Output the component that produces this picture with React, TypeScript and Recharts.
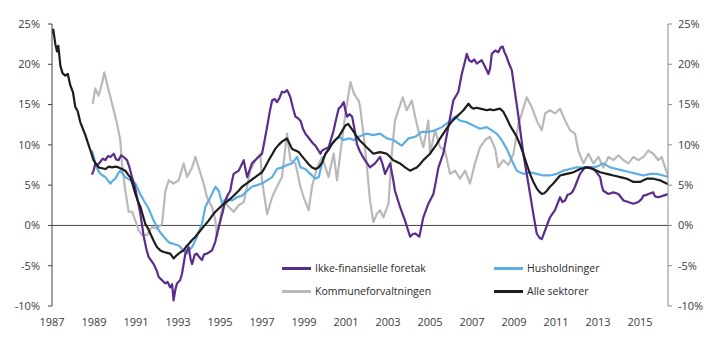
import React from "react";
import {
  LineChart,
  Line,
  XAxis,
  YAxis,
  ReferenceLine,
} from "recharts";

// [year, growth %]
const ikkeFinansielle: [number, number][] = [
  [1988.9, 6.3], [1988.98, 6.8], [1989.06, 7.7], [1989.18, 7.5], [1989.3, 7.9], [1989.42, 8.3],
  [1989.54, 8.1], [1989.66, 8.6], [1989.78, 8.5], [1989.94, 8.9], [1990.05, 8.2], [1990.17, 8.1],
  [1990.29, 8.7], [1990.41, 8.5], [1990.57, 8.1], [1990.69, 7.2], [1990.81, 6.0], [1990.93, 5.0],
  [1991.05, 3.5], [1991.21, 1.4], [1991.37, -1.4], [1991.5, -3.0], [1991.6, -3.9], [1991.84, -4.8],
  [1992.0, -5.7], [1992.08, -6.4], [1992.2, -6.7], [1992.4, -7.2], [1992.5, -7.0], [1992.63, -7.7],
  [1992.72, -7.3], [1992.79, -9.3], [1992.87, -8.0], [1992.95, -7.2], [1993.1, -6.8], [1993.19, -6.0],
  [1993.35, -3.5], [1993.51, -2.7], [1993.6, -4.2], [1993.67, -4.8], [1993.8, -3.6], [1993.9, -3.5],
  [1994.0, -3.9], [1994.14, -4.3], [1994.24, -3.6], [1994.38, -3.5], [1994.5, -3.3], [1994.62, -3.1],
  [1994.78, -2.0], [1994.86, -1.0], [1995.02, 0.6], [1995.14, 1.8], [1995.25, 3.1], [1995.37, 3.8],
  [1995.49, 4.3], [1995.57, 5.5], [1995.65, 6.4], [1995.89, 6.8], [1996.02, 7.5], [1996.13, 8.1],
  [1996.21, 7.0], [1996.29, 6.0], [1996.44, 7.1], [1996.52, 7.7], [1996.76, 8.3], [1997.0, 8.9],
  [1997.12, 10.5], [1997.24, 12.2], [1997.36, 14.0], [1997.48, 15.5], [1997.6, 15.7], [1997.71, 15.3],
  [1997.83, 15.8], [1997.95, 16.6], [1998.07, 16.5], [1998.19, 16.8], [1998.27, 16.4], [1998.35, 15.9],
  [1998.47, 14.6], [1998.59, 13.5], [1998.71, 13.3], [1998.83, 13.0], [1998.95, 12.0], [1999.06, 11.4],
  [1999.18, 11.0], [1999.3, 10.6], [1999.42, 10.2], [1999.54, 9.9], [1999.66, 9.4], [1999.78, 8.9],
  [1999.86, 9.3], [2000.0, 9.5], [2000.17, 9.7], [2000.3, 10.8], [2000.41, 11.8], [2000.53, 13.2],
  [2000.65, 14.5], [2000.77, 14.8], [2000.89, 15.3], [2000.97, 14.3], [2001.05, 13.5], [2001.17, 13.8],
  [2001.29, 13.5], [2001.4, 12.0], [2001.52, 10.1], [2001.64, 9.3], [2001.76, 8.7], [2001.9, 8.1],
  [2002.14, 7.2], [2002.38, 7.7], [2002.62, 8.5], [2002.74, 7.6], [2002.86, 6.4], [2003.1, 7.7],
  [2003.25, 5.6], [2003.33, 4.3], [2003.57, 2.3], [2003.81, 0.6], [2004.05, -1.4], [2004.17, -1.1],
  [2004.29, -1.0], [2004.49, -1.4], [2004.6, 0.0], [2004.68, 1.0], [2004.92, 2.7], [2005.16, 3.9],
  [2005.28, 5.5], [2005.4, 7.2], [2005.63, 8.9], [2005.87, 12.2], [2006.11, 15.5], [2006.35, 16.6],
  [2006.51, 18.8], [2006.63, 20.0], [2006.75, 21.3], [2006.86, 20.5], [2006.98, 20.3], [2007.1, 20.6],
  [2007.22, 20.1], [2007.34, 20.3], [2007.46, 20.5], [2007.62, 19.7], [2007.78, 18.8], [2007.86, 19.5],
  [2007.94, 21.3], [2008.1, 21.7], [2008.25, 21.5], [2008.37, 22.1], [2008.46, 22.2], [2008.53, 21.6],
  [2008.65, 20.9], [2008.77, 20.0], [2008.89, 19.3], [2009.05, 16.4], [2009.21, 13.5], [2009.44, 8.9],
  [2009.68, 5.2], [2009.92, 1.4], [2010.08, -1.0], [2010.2, -1.5], [2010.32, -1.7], [2010.48, -0.6],
  [2010.71, 1.0], [2010.95, 1.9], [2011.19, 3.5], [2011.3, 2.9], [2011.43, 3.1], [2011.55, 3.8],
  [2011.67, 3.9], [2011.79, 4.2], [2011.9, 4.8], [2012.14, 6.4], [2012.38, 7.2], [2012.62, 7.2],
  [2012.86, 6.8], [2013.1, 6.0], [2013.18, 4.9], [2013.25, 4.3], [2013.49, 3.9], [2013.73, 4.1],
  [2013.97, 3.9], [2014.21, 3.1], [2014.44, 2.9], [2014.68, 2.7], [2014.92, 2.9], [2015.08, 3.3],
  [2015.16, 3.7], [2015.32, 3.8], [2015.4, 3.9], [2015.63, 4.1], [2015.71, 3.6], [2015.87, 3.5],
  [2016.11, 3.7], [2016.33, 3.9],
];

const husholdninger: [number, number][] = [
  [1988.9, 9.3], [1988.98, 8.6], [1989.06, 7.7], [1989.18, 6.9], [1989.3, 6.4], [1989.42, 6.2],
  [1989.54, 6.0], [1989.66, 5.6], [1989.78, 5.2], [1989.9, 5.6], [1990.02, 5.8], [1990.14, 6.4],
  [1990.25, 6.8], [1990.37, 6.4], [1990.49, 6.0], [1990.61, 5.8], [1990.73, 5.6], [1990.85, 5.4],
  [1990.97, 5.2], [1991.16, 4.1], [1991.37, 3.1], [1991.6, 2.1], [1991.84, 0.6], [1992.08, -0.6],
  [1992.32, -1.4], [1992.56, -2.1], [1992.79, -2.3], [1993.03, -2.5], [1993.27, -3.1], [1993.43, -3.5],
  [1993.55, -3.0], [1993.67, -2.7], [1993.9, -1.4], [1994.14, 0.2], [1994.3, 2.3], [1994.54, 3.5],
  [1994.78, 4.8], [1994.94, 4.3], [1995.1, 2.7], [1995.33, 3.3], [1995.57, 3.1], [1995.81, 3.5],
  [1996.05, 3.7], [1996.29, 4.3], [1996.52, 4.8], [1996.76, 5.0], [1997.0, 5.2], [1997.24, 5.6],
  [1997.48, 6.0], [1997.71, 7.0], [1997.95, 7.2], [1998.19, 7.5], [1998.43, 7.7], [1998.67, 8.5],
  [1998.83, 7.2], [1999.06, 7.0], [1999.3, 6.4], [1999.54, 5.8], [1999.7, 6.0], [1999.94, 8.5],
  [2000.17, 9.5], [2000.41, 10.4], [2000.65, 11.0], [2000.89, 10.6], [2001.13, 10.8], [2001.37, 10.6],
  [2001.6, 11.0], [2001.98, 11.4], [2002.3, 11.2], [2002.62, 11.4], [2002.94, 10.8], [2003.25, 10.6],
  [2003.65, 9.9], [2003.97, 10.8], [2004.29, 11.0], [2004.6, 11.6], [2004.92, 11.6], [2005.24, 11.8],
  [2005.56, 12.2], [2005.87, 12.8], [2006.19, 13.5], [2006.43, 13.0], [2006.75, 12.8], [2007.06, 12.4],
  [2007.38, 12.0], [2007.7, 12.2], [2007.94, 11.8], [2008.17, 11.4], [2008.41, 10.6], [2008.65, 9.5],
  [2008.89, 8.1], [2009.13, 6.8], [2009.44, 6.4], [2009.76, 6.6], [2010.08, 6.4], [2010.4, 6.2],
  [2010.71, 6.2], [2011.03, 6.4], [2011.35, 6.8], [2011.67, 7.0], [2011.98, 7.2], [2012.3, 7.2],
  [2012.62, 7.2], [2012.94, 7.3], [2013.25, 7.7], [2013.57, 7.2], [2013.89, 7.0], [2014.21, 6.8],
  [2014.52, 6.6], [2014.84, 6.4], [2015.16, 6.2], [2015.48, 6.4], [2015.79, 6.4], [2016.11, 6.2],
  [2016.33, 6.0],
];

const kommuneforvaltningen: [number, number][] = [
  [1988.94, 15.1], [1989.06, 17.0], [1989.22, 16.1], [1989.38, 17.6], [1989.49, 19.0], [1989.62, 17.6],
  [1989.78, 15.9], [1989.94, 14.3], [1990.1, 12.6], [1990.25, 10.6], [1990.33, 7.7], [1990.49, 4.3],
  [1990.65, 1.7], [1990.81, 1.7], [1990.97, 0.6], [1991.13, -0.6], [1991.29, -1.2], [1991.52, -1.2],
  [1991.76, -0.2], [1992.0, -0.4], [1992.24, 0.2], [1992.4, 4.3], [1992.56, 5.6], [1992.79, 5.2],
  [1993.03, 5.6], [1993.27, 7.7], [1993.43, 6.0], [1993.67, 7.2], [1993.83, 8.5], [1993.98, 7.2],
  [1994.22, 5.2], [1994.38, 3.5], [1994.62, 2.3], [1994.78, 0.6], [1994.86, -1.4], [1995.02, 1.0],
  [1995.17, 3.1], [1995.41, 2.3], [1995.65, 1.7], [1995.89, 2.5], [1996.13, 2.9], [1996.29, 4.8],
  [1996.44, 6.8], [1996.68, 8.1], [1996.92, 8.9], [1997.0, 5.6], [1997.24, 1.4], [1997.48, 3.5],
  [1997.71, 4.8], [1997.95, 6.0], [1998.19, 11.4], [1998.35, 8.1], [1998.59, 7.7], [1998.83, 4.8],
  [1998.98, 3.5], [1999.22, 1.9], [1999.38, 4.8], [1999.62, 7.2], [1999.86, 8.5], [2000.17, 6.0],
  [2000.41, 8.9], [2000.57, 5.6], [2000.81, 10.6], [2000.97, 13.9], [2001.21, 17.8], [2001.37, 16.4],
  [2001.6, 15.5], [2001.67, 14.7], [2001.83, 11.4], [2001.98, 7.7], [2002.14, 3.1], [2002.3, 0.4],
  [2002.46, 1.4], [2002.62, 1.9], [2002.78, 1.0], [2003.02, 2.7], [2003.18, 8.9], [2003.33, 13.0],
  [2003.49, 14.3], [2003.7, 15.9], [2003.89, 14.3], [2004.13, 15.5], [2004.29, 13.5], [2004.44, 11.8],
  [2004.68, 9.7], [2004.92, 13.0], [2005.0, 8.9], [2005.24, 11.8], [2005.48, 9.7], [2005.71, 9.3],
  [2005.95, 6.4], [2006.19, 6.8], [2006.43, 5.8], [2006.67, 6.8], [2006.9, 5.2], [2007.14, 7.7],
  [2007.38, 9.7], [2007.62, 10.6], [2007.86, 11.0], [2008.1, 9.5], [2008.25, 7.2], [2008.49, 8.1],
  [2008.73, 7.5], [2008.97, 8.9], [2009.21, 12.6], [2009.37, 13.9], [2009.6, 15.9], [2009.84, 14.7],
  [2010.08, 13.0], [2010.32, 11.8], [2010.48, 13.9], [2010.71, 14.3], [2010.95, 13.9], [2011.19, 14.5],
  [2011.43, 13.0], [2011.67, 11.8], [2011.9, 11.4], [2012.06, 9.3], [2012.3, 7.7], [2012.54, 8.9],
  [2012.78, 7.7], [2013.02, 8.5], [2013.25, 7.2], [2013.49, 8.5], [2013.73, 8.1], [2013.97, 8.7],
  [2014.21, 8.1], [2014.44, 7.7], [2014.68, 8.5], [2014.92, 8.1], [2015.16, 8.5], [2015.4, 9.3],
  [2015.63, 8.9], [2015.87, 8.1], [2016.03, 8.5], [2016.19, 7.2], [2016.33, 6.2],
];

const alleSektorer: [number, number][] = [
  [1987.0, 23.8], [1987.06, 24.3], [1987.16, 22.5], [1987.24, 21.6], [1987.3, 22.3], [1987.4, 19.8],
  [1987.5, 18.9], [1987.63, 18.6], [1987.75, 18.8], [1987.87, 17.4], [1988.0, 16.5], [1988.11, 14.7],
  [1988.22, 14.2], [1988.35, 12.8], [1988.47, 12.0], [1988.59, 11.2], [1988.7, 10.3], [1988.83, 9.3],
  [1988.98, 8.1], [1989.1, 7.6], [1989.22, 7.2], [1989.38, 7.1], [1989.54, 7.0], [1989.7, 7.3],
  [1989.86, 7.2], [1990.02, 7.3], [1990.17, 7.2], [1990.33, 7.0], [1990.49, 6.8], [1990.65, 6.2],
  [1990.73, 6.0], [1990.85, 5.0], [1990.97, 3.9], [1991.09, 3.0], [1991.21, 2.3], [1991.33, 1.2],
  [1991.44, 0.2], [1991.56, -0.3], [1991.68, -1.0], [1991.84, -1.9], [1992.0, -2.7], [1992.16, -3.1],
  [1992.32, -3.3], [1992.48, -3.4], [1992.63, -3.5], [1992.79, -4.1], [1992.9, -3.8], [1993.03, -3.5],
  [1993.19, -3.2], [1993.27, -3.1], [1993.4, -2.6], [1993.51, -2.3], [1993.67, -1.8], [1993.83, -1.4],
  [1993.98, -0.9], [1994.14, -0.4], [1994.3, 0.1], [1994.46, 0.6], [1994.62, 1.2], [1994.78, 1.7],
  [1994.94, 2.1], [1995.1, 2.5], [1995.25, 2.8], [1995.41, 3.1], [1995.57, 3.5], [1995.73, 3.9],
  [1995.89, 4.3], [1996.05, 4.8], [1996.21, 5.1], [1996.37, 5.4], [1996.52, 5.7], [1996.68, 6.0],
  [1996.84, 6.3], [1997.0, 6.6], [1997.16, 7.3], [1997.32, 8.1], [1997.48, 8.8], [1997.63, 9.5],
  [1997.79, 10.0], [1997.95, 10.4], [1998.07, 10.6], [1998.19, 10.8], [1998.3, 10.2], [1998.43, 9.5],
  [1998.59, 9.3], [1998.75, 9.1], [1998.9, 8.6], [1999.06, 8.1], [1999.22, 7.6], [1999.38, 7.2],
  [1999.54, 7.0], [1999.7, 7.2], [1999.86, 7.8], [2000.02, 8.9], [2000.17, 9.4], [2000.33, 10.1],
  [2000.49, 10.6], [2000.65, 11.0], [2000.81, 11.7], [2000.97, 12.4], [2001.1, 12.6], [2001.21, 12.2],
  [2001.37, 11.6], [2001.52, 11.0], [2001.67, 10.5], [2001.83, 10.1], [2001.98, 9.7], [2002.14, 9.3],
  [2002.3, 8.9], [2002.46, 9.0], [2002.62, 9.1], [2002.78, 9.0], [2002.94, 8.9], [2003.1, 8.5],
  [2003.25, 8.1], [2003.41, 7.9], [2003.57, 7.7], [2003.81, 7.2], [2004.05, 6.8], [2004.21, 7.0],
  [2004.37, 7.2], [2004.52, 7.6], [2004.68, 8.1], [2004.84, 8.5], [2005.0, 8.9], [2005.16, 9.5],
  [2005.32, 10.1], [2005.48, 10.8], [2005.63, 11.4], [2005.79, 12.0], [2005.95, 12.6], [2006.11, 13.1],
  [2006.27, 13.5], [2006.43, 13.9], [2006.59, 14.3], [2006.71, 14.7], [2006.83, 15.1], [2006.95, 14.7],
  [2007.06, 14.5], [2007.22, 14.6], [2007.38, 14.5], [2007.54, 14.4], [2007.7, 14.3], [2007.86, 14.4],
  [2008.02, 14.3], [2008.17, 14.4], [2008.33, 14.5], [2008.49, 14.1], [2008.65, 13.3], [2008.81, 12.4],
  [2008.97, 11.7], [2009.13, 11.0], [2009.29, 10.0], [2009.44, 8.9], [2009.6, 7.6], [2009.76, 6.4],
  [2009.92, 5.4], [2010.08, 4.6], [2010.2, 4.2], [2010.32, 3.9], [2010.44, 4.0], [2010.56, 4.3],
  [2010.71, 4.8], [2010.87, 5.2], [2011.03, 5.7], [2011.19, 6.2], [2011.35, 6.3], [2011.51, 6.4],
  [2011.67, 6.5], [2011.83, 6.6], [2011.98, 6.8], [2012.14, 7.0], [2012.3, 7.1], [2012.46, 7.2],
  [2012.62, 7.1], [2012.78, 7.0], [2012.94, 6.8], [2013.1, 6.6], [2013.25, 6.5], [2013.41, 6.4],
  [2013.57, 6.3], [2013.73, 6.2], [2013.89, 6.1], [2014.05, 6.0], [2014.21, 5.9], [2014.37, 5.8],
  [2014.52, 5.6], [2014.68, 5.4], [2014.84, 5.4], [2015.0, 5.4], [2015.16, 5.6], [2015.32, 5.8],
  [2015.48, 5.8], [2015.63, 5.8], [2015.79, 5.7], [2015.95, 5.6], [2016.11, 5.4], [2016.27, 5.2],
  [2016.33, 5.1],
];

const yearTicks = [1987, 1989, 1991, 1993, 1995, 1997, 1999, 2001, 2003, 2005, 2007, 2009, 2011, 2013, 2015];
const pctTicks = [-10, -5, 0, 5, 10, 15, 20, 25];

// drawing order: grey at the back, black on top; black is tied to the right axis (same scale)
const series = [
  { name: "Kommuneforvaltningen", data: kommuneforvaltningen, color: "#b9b9b9", axis: "left" },
  { name: "Husholdninger", data: husholdninger, color: "#5eaee6", axis: "left" },
  { name: "Ikke-finansielle foretak", data: ikkeFinansielle, color: "#5b2c8c", axis: "left" },
  { name: "Alle sektorer", data: alleSektorer, color: "#1d1d1b", axis: "right" },
];

const legendItems = [
  { name: "Ikke-finansielle foretak", color: "#5b2c8c", left: 282, top: 261 },
  { name: "Husholdninger", color: "#5eaee6", left: 494, top: 261 },
  { name: "Kommuneforvaltningen", color: "#b9b9b9", left: 282, top: 284 },
  { name: "Alle sektorer", color: "#1d1d1b", left: 494, top: 284 },
];

const font = "'Open Sans', sans-serif";
const toRows = (pts: [number, number][]) => pts.map(([year, value]) => ({ year, value }));
const pct = (v: number) => `${v}%`;

export default function App() {
  return (
    <div style={{ position: "absolute", left: 0, top: 0, width: 719, height: 345, background: "#fff", fontFamily: font }}>
      <LineChart width={719} height={345} margin={{ top: 24, right: 10, left: 10, bottom: 15 }}>
        <XAxis
          dataKey="year"
          type="number"
          domain={[1987, 2016.33]}
          ticks={yearTicks}
          interval={0}
          allowDataOverflow
          axisLine={false}
          tickLine={false}
          tickMargin={6}
          height={24}
          tick={{ fontSize: 11, fill: "#3a3a3a", fontFamily: font }}
        />
        <YAxis
          yAxisId="left"
          domain={[-10, 25]}
          ticks={pctTicks}
          interval={0}
          width={42}
          tickFormatter={pct}
          axisLine={{ stroke: "#444" }}
          tickLine={{ stroke: "#444" }}
          tickSize={4}
          tickMargin={8}
          tick={{ fontSize: 11, fill: "#3a3a3a", fontFamily: font }}
        />
        <YAxis
          yAxisId="right"
          orientation="right"
          domain={[-10, 25]}
          ticks={pctTicks}
          interval={0}
          width={41}
          tickFormatter={pct}
          axisLine={{ stroke: "#8c8c8c" }}
          tickLine={{ stroke: "#8c8c8c" }}
          tickSize={4}
          tickMargin={6}
          tick={{ fontSize: 11, fill: "#3a3a3a", fontFamily: font }}
        />
        <ReferenceLine yAxisId="left" y={0} stroke="#444" strokeWidth={1} />
        {series.map((s) => (
          <Line
            key={s.name}
            yAxisId={s.axis}
            data={toRows(s.data)}
            dataKey="value"
            name={s.name}
            stroke={s.color}
            strokeWidth={2.2}
            dot={false}
            strokeLinejoin="round"
            isAnimationActive={false}
          />
        ))}
      </LineChart>
      {legendItems.map((it) => (
        <div
          key={it.name}
          style={{ position: "absolute", left: it.left, top: it.top, display: "flex", alignItems: "center", fontSize: 10.5, color: "#2a2a2a", whiteSpace: "nowrap" }}
        >
          <span style={{ display: "inline-block", width: 29, height: 3, background: it.color, marginRight: 4 }} />
          <span>{it.name}</span>
        </div>
      ))}
    </div>
  );
}
